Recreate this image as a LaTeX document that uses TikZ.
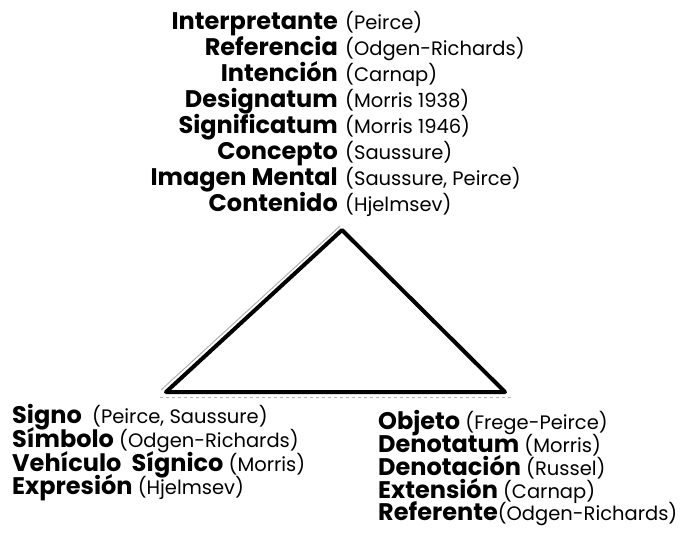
\documentclass[tikz,border=0pt]{standalone}
\usepackage{fontspec}
\setmainfont{Poppins}
\newcommand{\bigb}[1]{\textbf{\fontsize{24}{26}\selectfont #1}}
\begin{document}
\begin{tikzpicture}[x=1pt,y=-1pt,
  nm/.style={inner sep=0pt,font=\fontsize{24}{26}\selectfont\bfseries},
  rf/.style={inner sep=0pt,font=\fontsize{19.5}{22}\selectfont},
  bl/.style={inner sep=0pt,anchor=base west,font=\fontsize{19.5}{22}\selectfont},
  edge/.style={line width=4pt,line join=round,line cap=round}]
\useasboundingbox[fill=white] (0,0) rectangle (683,540);
% top block
\foreach \i/\a/\b in {0/Interpretante/(Peirce),1/Referencia/(Odgen-Richards),2/Intención/(Carnap),3/Designatum/(Morris 1938),4/Significatum/(Morris 1946),5/Concepto/(Saussure),6/Imagen Mental/{(Saussure, Peirce)},7/Contenido/(Hjelmsev)}{
  \node[nm,anchor=base east] (t\i) at (338,{30+25.9*\i}) {\a};
  \node[rf,anchor=base west] (p\i) at (345,{30+25.9*\i}) {\b};
}
% triangle
\coordinate (A) at (342,230);
\coordinate (B) at (166,392);
\coordinate (C) at (505,392);
\draw[gray!60,line width=1pt] (161,390) -- (340,226);
\draw[gray!60,line width=0.8pt,dashed] (160,397) -- (512,397);
\draw[edge] (A) -- (C) -- (B) -- cycle;
% bottom left
\node[bl] (s1) at (12,423) {\bigb{Signo}\ \ (Peirce, Saussure)};
\node[bl] (s2) at (12,447) {\bigb{Símbolo} (Odgen-Richards)};
\node[bl] (s3) at (12,471) {\bigb{Vehículo\ \ Sígnico} (Morris)};
\node[bl] (s4) at (12,494) {\bigb{Expresión} (Hjelmsev)};
% bottom right
\node[bl] (o1) at (378,429) {\bigb{Objeto} (Frege-Peirce)};
\node[bl] (o2) at (378,452) {\bigb{Denotatum} (Morris)};
\node[bl] (o3) at (378,475) {\bigb{Denotación} (Russel)};
\node[bl] (o4) at (378,498) {\bigb{Extensión} (Carnap)};
\node[bl] (o5) at (378,520) {\bigb{Referente}(Odgen-Richards)};
\end{tikzpicture}
\end{document}
